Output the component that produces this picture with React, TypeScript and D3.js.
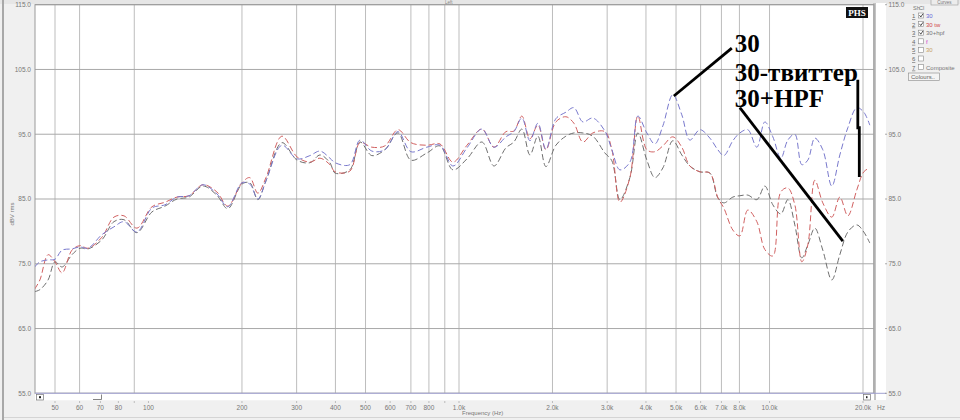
import React from "react";
import * as d3 from "d3";

// frequency points (Hz) shared by all three curves
const freqs = [
  43, 44.7, 47.5, 50, 52.7, 56.7, 60.2, 63.9, 70.8, 77.4, 83.4, 91.8, 102.6, 113, 123.6, 135, 149.8, 166, 180,
  200, 212, 225, 239, 269, 301, 331, 357, 384,
  399, 445, 480, 524, 577, 636, 700, 788, 868, 956, 1061, 1185, 1296, 1416, 1502, 1594, 1692, 1795, 1905,
  2051, 2209, 2344, 2506, 2698, 2950, 3107, 3297,
  3551, 3767, 4027, 4273, 4535, 4881, 5218, 5538, 5966, 6425, 6817, 7127, 7620, 8025, 8514, 9103, 9659,
  10250, 10876, 11455, 12065, 12706, 13283, 13994, 14846, 15870, 16844, 17872, 19103, 20119, 21035,
];

// "30"
const curve30 = [
  74.5, 75.3, 75.6, 75.7, 77.1, 77.3, 77.6, 77.4, 79.5, 80.7, 81.5, 79.9, 83.6, 84.1, 85.3, 85.5, 87.2, 85.8, 83.8,
  87.5, 87.3, 85.0, 87.8, 93.3, 91.2, 91.7, 92.4, 91.3,
  90.6, 90.3, 94.1, 92.4, 92.6, 95.4, 92.3, 93.0, 93.3, 90.1, 92.9, 95.8, 93.0, 94.6, 95.4, 97.5, 94.0, 96.7, 92.7,
  97.4, 98.4, 99.1, 96.9, 97.5, 95.5, 92.6, 89.5,
  90.7, 97.8, 95.2, 93.5, 96.3, 101.1, 98.0, 94.1, 95.7, 94.4, 92.6, 91.7, 94.0, 95.2, 95.7, 93.0, 96.9,
  94.6, 91.3, 94.1, 95.0, 90.3, 91.0, 94.4, 92.6, 87.0, 91.8, 96.0, 99.1, 98.4, 96.4,
];

// "30 tw"
const curve30tw = [
  71.1, 72.5, 76.4, 75.3, 73.6, 77.1, 77.8, 77.4, 79.1, 82.2, 82.4, 80.5, 83.8, 84.5, 85.3, 85.5, 87.2, 86.1, 83.9,
  87.5, 88.3, 85.9, 88.3, 94.7, 91.5, 90.7, 91.3, 90.3,
  89.2, 89.3, 93.7, 93.0, 93.2, 95.7, 93.7, 93.3, 93.5, 90.7, 93.3, 95.8, 93.0, 95.4, 95.5, 97.8, 94.3, 96.4, 92.6,
  96.9, 97.7, 96.7, 93.8, 95.2, 95.4, 92.6, 84.5,
  88.3, 97.8, 92.6, 92.3, 93.2, 94.6, 93.0, 90.1, 89.2, 89.0, 85.2, 83.6, 80.2, 79.3, 83.3, 81.5, 77.2,
  76.2, 86.1, 86.7, 84.1, 75.3, 77.9, 87.9, 84.4, 82.2, 85.3, 82.4, 86.4, 89.2, 89.8,
];

// "30+hpf"
const curve30hpf = [
  70.7, 71.0, 72.5, 75.3, 74.5, 76.4, 77.4, 77.3, 78.7, 81.5, 81.8, 79.8, 83.0, 83.9, 85.0, 85.3, 87.0, 85.6, 83.5,
  87.3, 87.5, 84.9, 87.8, 93.7, 91.0, 90.6, 91.8, 90.6,
  89.0, 89.5, 93.8, 91.7, 92.6, 95.2, 91.0, 92.1, 93.2, 89.5, 91.2, 93.8, 90.1, 92.9, 93.8, 95.8, 91.8, 94.7, 90.0,
  93.3, 94.7, 95.2, 95.2, 94.7, 92.1, 90.9, 84.9,
  88.3, 95.2, 91.0, 88.3, 89.8, 94.0, 91.8, 90.1, 89.2, 89.0, 85.2, 84.4, 85.3, 85.5, 85.6, 84.9, 87.0,
  84.1, 82.7, 84.9, 81.0, 75.9, 77.9, 80.5, 77.1, 72.5, 76.4, 79.9, 81.0, 79.9, 78.2,
];

const dbTicks = [115, 105, 95, 85, 75, 65, 55];
const gridFreqs = [50, 60, 90, 200, 300, 400, 500, 700, 800, 900, 1000, 2000, 3000, 4000, 5000, 6000, 7000, 8000, 10000, 20000];
const tickFreqs = [50, 60, 70, 80, 100, 200, 300, 400, 500, 600, 700, 800, 1000, 2000, 3000, 4000, 5000, 6000, 7000, 8000, 10000, 20000];
const minorFreqs = [90, 900];

const legendNums = ["1", "2", "3", "4", "5", "6", "7"];
const legendNames = ["30", "30 tw", "30+hpf", "f", "30", "", "Composite"];
const legendChecked = [true, true, true, false, false, false, false];
const legendColors = ["#6a6ad8", "#d04848", "#777777", "#d040d0", "#c8a060", "#777", "#777777"];

// annotation anchors in data space [Hz, dB]
const annLabels = ["30", "30-твиттер", "30+HPF"];
const annLabelPos: [number, number][] = [[7730, 107.7], [7730, 103.2], [7730, 99.2]];
const annLines: [number, number][][] = [
  [[4920, 100.9], [7560, 108.3]],
  [[19245, 103.4], [19245, 96.0], [19460, 96.0], [19460, 88.4]],
  [[8025, 99.1], [17220, 78.5]],
];

const W = 960;
const H = 420;
const L = 35;
const R = 874;
const T = 4.7;
const B = 393.3;

const x = d3.scaleLog().domain([50, 20000]).range([55, 863]);
const y = d3.scaleLinear().domain([55, 115]).range([B, T]);

const fmtHz = (f: number) => (f >= 1000 ? (f / 1000).toFixed(1) + "k" : String(f));

const series = [
  { values: curve30hpf, color: "#6e6e6e" },
  { values: curve30tw, color: "#d06060" },
  { values: curve30, color: "#7878cc" },
];

export default function App() {
  const line = d3
    .line<number>()
    .x((_, i) => x(freqs[i]))
    .y((d) => y(d))
    .curve(d3.curveCatmullRom.alpha(0.5));
  const annLine = d3
    .line<[number, number]>()
    .x((d) => x(d[0]))
    .y((d) => y(d[1]));

  const sans = "Liberation Sans, Arial, sans-serif";

  return (
    <svg width={W} height={H} style={{ position: "fixed", left: 0, top: 0, display: "block" }}>
      <defs>
        <clipPath id="plotclip">
          <rect x={L} y={T} width={R - L} height={B - T} />
        </clipPath>
      </defs>
      <rect width={W} height={H} fill="#f0f0f0" />
      <rect x={0} y={0} width={W} height={4} fill="#e6e6e6" />
      <rect x={2} y={0} width={2} height={H} fill="#a8a8a8" />
      <text x={445} y={4.2} fontSize={4.5} fontFamily={sans} fill="#888">Left</text>

      {/* plot area */}
      <rect x={L} y={T} width={R - L} height={B - T} fill="#fff" />
      <rect x={876} y={3} width={10} height={397} fill="#fff" />
      <rect x={873} y={3} width={3} height={397} fill="#c4c4c4" />

      {gridFreqs.map((f) => (
        <line key={"vg" + f} x1={x(f)} x2={x(f)} y1={T} y2={B} stroke="#bdbdbd" strokeWidth={1} />
      ))}
      {dbTicks.map((d) => (
        <line key={"hg" + d} x1={L} x2={R} y1={y(d)} y2={y(d)} stroke="#a9a9a9" strokeWidth={1} />
      ))}
      <rect x={L} y={T} width={R - L} height={B - T} fill="none" stroke="#9a9a9a" strokeWidth={1} />

      <g clipPath="url(#plotclip)">
        {series.map((s, i) => (
          <path key={i} d={line(s.values) || ""} fill="none" stroke={s.color} strokeWidth={1} strokeDasharray="6,3" />
        ))}
      </g>

      {/* scroll strip */}
      <rect x={L} y={B} width={R - L} height={7} fill="#fff" />
      <line x1={L} x2={886} y1={B} y2={B} stroke="#a0a0d0" strokeWidth={1} />
      <rect x={36.5} y={394.5} width={7} height={5.5} fill="#fff" stroke="#777" strokeWidth={0.7} />
      <rect x={39} y={396.2} width={2} height={2} fill="#222" />
      <path d="M93,399.5 L101.5,399.5 L101.5,394.5" fill="none" stroke="#666" strokeWidth={0.8} />
      <rect x={863.5} y={394.5} width={7} height={5.5} fill="#fff" stroke="#777" strokeWidth={0.7} />
      <rect x={866} y={396.2} width={1.5} height={2} fill="#222" />

      {/* x ticks */}
      {tickFreqs.concat(minorFreqs).map((f) => (
        <line key={"xt" + f} x1={x(f)} x2={x(f)} y1={401} y2={403} stroke="#999" strokeWidth={0.6} />
      ))}
      {tickFreqs.map((f) => (
        <text key={"xl" + f} x={x(f)} y={410} fontSize={6.5} fontFamily={sans} fill="#777" textAnchor="middle">
          {fmtHz(f)}
        </text>
      ))}
      <text x={877} y={410} fontSize={6.5} fontFamily={sans} fill="#777">Hz</text>
      <text x={462} y={415} fontSize={6} fontFamily={sans} fill="#777">Frequency (Hz)</text>
      <line x1={4} x2={W} y1={417.5} y2={417.5} stroke="#d4d4d4" strokeWidth={1} />

      {/* y labels left */}
      {dbTicks.map((d) => (
        <text key={"yl" + d} x={31} y={y(d) + 2.3} fontSize={6.5} fontFamily={sans} fill="#777" textAnchor="end">
          {d.toFixed(1)}
        </text>
      ))}
      <text
        transform={`translate(13.5,214) rotate(-90)`}
        fontSize={6}
        fontFamily={sans}
        fill="#777"
        textAnchor="middle"
      >
        dBV rms
      </text>

      {/* y labels right */}
      {dbTicks.map((d) => (
        <g key={"yr" + d}>
          <line x1={885} x2={887} y1={y(d)} y2={y(d)} stroke="#888" strokeWidth={0.7} />
          <text x={888.5} y={y(d) + 2.3} fontSize={6.5} fontFamily={sans} fill="#777">
            {d.toFixed(1)}
          </text>
        </g>
      ))}

      {/* PHS badge */}
      <rect x={846} y={7} width={22} height={11} fill="#111" />
      <text x={857} y={16} fontSize={9} fontWeight="bold" fontFamily="Liberation Serif, serif" fill="#fff" textAnchor="middle">
        PHS
      </text>

      {/* legend panel */}
      <rect x={931} y={-1} width={27} height={6} fill="#ececec" stroke="#999" strokeWidth={0.6} />
      <text x={944.5} y={4.3} fontSize={4.5} fontFamily={sans} fill="#777" textAnchor="middle">Curves</text>
      <text x={913} y={10} fontSize={5.5} fontFamily={sans} fill="#777">Sh</text>
      <text x={919} y={10} fontSize={5.5} fontFamily={sans} fill="#777">Cl</text>
      {legendNums.map((n, i) => {
        const ry = 16 + i * 8.6;
        return (
          <g key={"lg" + n}>
            <text x={912} y={ry + 2} fontSize={6} fontFamily={sans} fill="#666" textDecoration="underline">
              {n}
            </text>
            <rect x={918.5} y={ry - 3} width={5} height={5} fill="#fff" stroke="#888" strokeWidth={0.6} />
            {legendChecked[i] && (
              <path d={`M919.5,${ry - 0.8} L920.8,${ry + 1} L923,${ry - 2.3}`} fill="none" stroke="#222" strokeWidth={0.8} />
            )}
            <text x={926} y={ry + 2} fontSize={6} fontFamily={sans} fill={legendColors[i]}>
              {legendNames[i]}
            </text>
          </g>
        );
      })}
      <rect x={908.5} y={73} width={31} height={7.5} fill="#f4f4f4" stroke="#888" strokeWidth={0.6} />
      <text x={911} y={79} fontSize={6} fontFamily={sans} fill="#666">Colours..</text>

      {/* annotations */}
      {annLines.map((pts, i) => (
        <path key={"al" + i} d={annLine(pts) || ""} fill="none" stroke="#000" strokeWidth={2.8} />
      ))}
      {annLabels.map((t, i) => (
        <text
          key={"at" + i}
          x={x(annLabelPos[i][0])}
          y={y(annLabelPos[i][1])}
          fontSize={25}
          fontWeight="bold"
          fontFamily="Liberation Serif, Times New Roman, serif"
          fill="#000"
        >
          {t}
        </text>
      ))}
    </svg>
  );
}
